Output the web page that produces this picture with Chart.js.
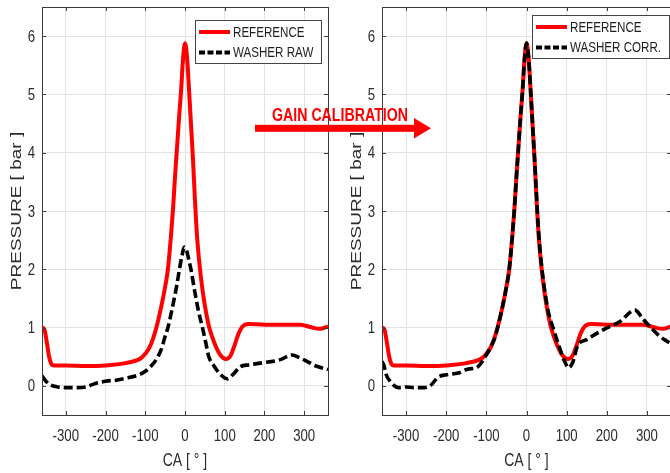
<!DOCTYPE html>
<html>
<head>
<meta charset="utf-8">
<title>Gain calibration</title>
<script src="https://cdn.jsdelivr.net/npm/chart.js@4.4.1/dist/chart.umd.min.js"></script>
<style>
  html, body { margin: 0; padding: 0; background: #fff; overflow: hidden; }
  #wrap { position: relative; width: 670px; height: 473px; overflow: hidden; }
  .panel { position: absolute; top: 0; }
  #left { left: 0; }
  #right { left: 340px; }
  #note { position: absolute; left: 0; top: 0; pointer-events: none; }
</style>
</head>
<body>
<div id="wrap">
  <canvas id="left" class="panel" width="340" height="473"></canvas>
  <canvas id="right" class="panel" width="340" height="473"></canvas>
  <svg id="note" width="670" height="473">
    <text x="272" y="121" fill="#ff0000" textLength="136" lengthAdjust="spacingAndGlyphs"
          font-family="'Liberation Sans', Arial, sans-serif"
          font-weight="bold" font-size="17.5">GAIN CALIBRATION</text>
    <rect x="255" y="124.8" width="161" height="7" fill="#ff0000"/>
    <polygon points="414,118 431,128.3 414,138.6" fill="#ff0000"/>
  </svg>
</div>
<script>
// crank angle [deg] / pressure [bar]
const refCA = [-360, -354, -348, -342, -336, -330, -300, -250, -200, -150, -120, -110, -100, -90, -80, -72, -60, -50, -43, -35, -30, -25, -20, -15, -10, -5, 0, 5, 10, 15, 20, 25, 30, 37, 45, 52, 61, 75, 90, 103, 115, 125, 135, 145, 160, 200, 250, 290, 320, 340, 360];
const refP  = [1.0, 0.97, 0.75, 0.5, 0.37, 0.35, 0.35, 0.34, 0.35, 0.39, 0.44, 0.48, 0.55, 0.65, 0.82, 1.0, 1.35, 1.7, 2.0, 2.6, 3.05, 3.6, 4.1, 4.6, 5.05, 5.6, 5.88, 5.65, 5.1, 4.5, 3.9, 3.2, 2.6, 2.05, 1.6, 1.3, 1.0, 0.72, 0.52, 0.46, 0.52, 0.7, 0.9, 1.02, 1.06, 1.05, 1.05, 1.05, 1.0, 0.98, 1.02];

const rawCA = [-360, -350, -340, -320, -300, -270, -250, -230, -200, -170, -150, -120, -100, -80, -70, -60, -50, -43, -30, -20, -14, -7, -2, 5, 10, 15, 25, 35, 44, 52, 60, 73, 90, 107, 120, 140, 160, 190, 240, 269, 290, 307, 330, 360];
const rawP  = [0.17, 0.08, 0.02, -0.02, -0.03, -0.03, -0.02, 0.03, 0.08, 0.1, 0.13, 0.18, 0.25, 0.38, 0.48, 0.62, 0.85, 1.0, 1.4, 1.75, 2.0, 2.25, 2.38, 2.3, 2.15, 2.0, 1.6, 1.25, 1.0, 0.75, 0.5, 0.34, 0.19, 0.12, 0.19, 0.33, 0.36, 0.39, 0.45, 0.53, 0.48, 0.42, 0.34, 0.28];

const corrCA = [-360, -355, -350, -340, -320, -300, -280, -255, -240, -220, -200, -170, -145, -125, -110, -100, -90, -80, -72, -60, -50, -43, -35, -30, -25, -20, -15, -10, -5, 0, 5, 10, 15, 20, 25, 30, 37, 45, 55, 66, 80, 95, 105, 115, 128, 149, 175, 199, 232, 270, 290, 307, 332, 349, 360];
const corrP  = [0.42, 0.35, 0.2, 0.08, -0.03, -0.02, -0.03, -0.03, 0.0, 0.15, 0.19, 0.22, 0.29, 0.31, 0.42, 0.53, 0.66, 0.8, 1.0, 1.35, 1.7, 2.0, 2.6, 3.05, 3.6, 4.1, 4.6, 5.05, 5.6, 5.88, 5.65, 5.1, 4.5, 3.9, 3.25, 2.65, 2.1, 1.65, 1.25, 1.0, 0.7, 0.42, 0.31, 0.4, 0.7, 0.79, 0.9, 0.99, 1.1, 1.3, 1.15, 1.02, 0.85, 0.77, 0.72];

const caTicks = [-300, -200, -100, 0, 100, 200, 300];
const pTicks = [0, 1, 2, 3, 4, 5, 6];

const FONT = '"Liberation Sans", Arial, sans-serif';
const SQUEEZE = 0.8;   // narrow lettering
const TXT = '#2b2b2b';
const AX = '#3c3c3c';

function pts(xs, ys) {
  return xs.map((x, i) => ({ x: x, y: ys[i] }));
}

// fillText with a horizontal squeeze (optionally rotated)
function narrowText(ctx, str, x, y, size, align, rot) {
  ctx.save();
  ctx.translate(x, y);
  if (rot) {
    ctx.rotate(rot);
    ctx.scale(1, SQUEEZE);
  } else {
    ctx.scale(SQUEEZE, 1);
  }
  ctx.font = size + 'px ' + FONT;
  ctx.textAlign = align;
  ctx.textBaseline = 'middle';
  ctx.fillText(str, 0, 0);
  ctx.restore();
}

// axes box, inward ticks, tick labels and axis titles
const boxPlugin = {
  id: 'axBox',
  afterDatasetsDraw(chart) {
    const { ctx, chartArea: a, scales } = chart;
    ctx.save();
    ctx.strokeStyle = AX;
    ctx.lineWidth = 1;
    ctx.beginPath();
    const L = 4;
    caTicks.forEach(v => {
      const x = Math.round(scales.x.getPixelForValue(v)) + 0.5;
      ctx.moveTo(x, a.bottom); ctx.lineTo(x, a.bottom - L);
      ctx.moveTo(x, a.top); ctx.lineTo(x, a.top + L);
    });
    pTicks.forEach(v => {
      const y = Math.round(scales.y.getPixelForValue(v)) + 0.5;
      ctx.moveTo(a.left, y); ctx.lineTo(a.left + L, y);
      ctx.moveTo(a.right, y); ctx.lineTo(a.right - L, y);
    });
    ctx.stroke();
    ctx.strokeRect(Math.round(a.left) + 0.5, Math.round(a.top) + 0.5,
                   Math.round(a.right - a.left), Math.round(a.bottom - a.top));

    ctx.fillStyle = TXT;
    caTicks.forEach(v => {
      narrowText(ctx, String(v), scales.x.getPixelForValue(v), a.bottom + 21, 16.5, 'center');
    });
    pTicks.forEach(v => {
      narrowText(ctx, String(v), a.left - 7, scales.y.getPixelForValue(v) + 1, 16.5, 'right');
    });
    narrowText(ctx, 'CA [ ° ]', (a.left + a.right) / 2, 461, 17.5, 'center');
    narrowText(ctx, 'PRESSURE [ bar ]', a.left - 25, (a.top + a.bottom) / 2, 19, 'center', -Math.PI / 2);
    ctx.restore();
  }
};

// legend box drawn inside the axes, upper right
const legendPlugin = {
  id: 'boxLegend',
  afterDraw(chart, args, opts) {
    const { ctx, chartArea: a } = chart;
    const right = a.right - opts.right;
    const left = right - opts.width;
    const top = a.top + opts.top;
    ctx.save();
    ctx.fillStyle = '#fff';
    ctx.fillRect(left, top, opts.width, opts.height);
    ctx.strokeStyle = '#444';
    ctx.lineWidth = 1;
    ctx.strokeRect(Math.round(left) + 0.5, Math.round(top) + 0.5, opts.width, opts.height);
    chart.data.datasets.forEach((ds, i) => {
      const y = top + 12 + i * 20.5;
      ctx.beginPath();
      ctx.strokeStyle = ds.borderColor;
      ctx.lineWidth = 4;
      ctx.setLineDash(ds.borderDash ? [6, 2.5] : []);
      ctx.moveTo(left + 4, y);
      ctx.lineTo(left + 35, y);
      ctx.stroke();
      ctx.setLineDash([]);
      ctx.fillStyle = '#1e1e1e';
      narrowText(ctx, ds.label, left + 38, y + 0.5, 14.5, 'left');
    });
    ctx.restore();
  }
};

function makeScales() {
  return {
    x: {
      type: 'linear', min: -360, max: 360,
      afterBuildTicks: s => { s.ticks = caTicks.map(v => ({ value: v })); },
      afterFit: s => { s.height = 58; },
      grid: { color: '#e2e2e2', drawTicks: false },
      border: { display: false },
      ticks: { display: false }
    },
    y: {
      type: 'linear', min: -0.5, max: 6.5,
      afterBuildTicks: s => { s.ticks = pTicks.map(v => ({ value: v })); },
      afterFit: s => { s.width = 42; },
      grid: { color: '#e2e2e2', drawTicks: false },
      border: { display: false },
      ticks: { display: false }
    }
  };
}

function refSet() {
  return {
    label: 'REFERENCE', data: pts(refCA, refP), order: 1,
    borderColor: '#ff0000', borderWidth: 4, pointRadius: 0,
    cubicInterpolationMode: 'monotone', clip: 0
  };
}

function washerSet(label, xs, ys) {
  return {
    label: label, data: pts(xs, ys), order: 0,
    borderColor: '#000000', borderWidth: 3.6, borderDash: [9, 4], pointRadius: 0,
    cubicInterpolationMode: 'monotone', clip: 0
  };
}

function makeChart(id, washer, pad, leg) {
  return new Chart(document.getElementById(id), {
    type: 'line',
    data: { datasets: [refSet(), washer] },
    options: {
      responsive: false,
      animation: false,
      layout: { padding: pad },
      scales: makeScales(),
      plugins: {
        legend: { display: false },
        tooltip: { enabled: false },
        boxLegend: leg
      }
    },
    plugins: [boxPlugin, legendPlugin]
  });
}

makeChart('left', washerSet('WASHER RAW', rawCA, rawP),
  { left: 0, right: 12, top: 7, bottom: 0 },
  { right: 7, top: 13, width: 126, height: 43 });

makeChart('right', washerSet('WASHER CORR.', corrCA, corrP),
  { left: 0, right: 9, top: 7, bottom: 0 },
  { right: 2, top: 8, width: 137, height: 43 });
</script>
</body>
</html>
